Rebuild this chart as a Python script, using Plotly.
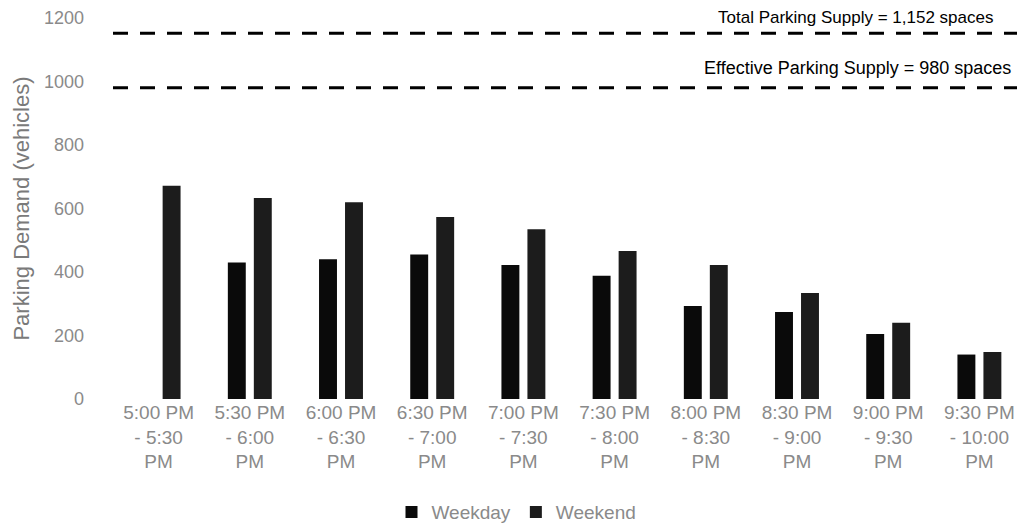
import plotly.graph_objects as go

categories = ["5:00 PM<br>- 5:30<br>PM", "5:30 PM<br>- 6:00<br>PM", "6:00 PM<br>- 6:30<br>PM",
              "6:30 PM<br>- 7:00<br>PM", "7:00 PM<br>- 7:30<br>PM", "7:30 PM<br>- 8:00<br>PM",
              "8:00 PM<br>- 8:30<br>PM", "8:30 PM<br>- 9:00<br>PM", "9:00 PM<br>- 9:30<br>PM",
              "9:30 PM<br>- 10:00<br>PM"]
weekday = [0, 430, 440, 455, 422, 388, 293, 274, 205, 140]
weekend = [672, 633, 620, 573, 535, 466, 422, 334, 240, 148]
total_supply = 1152
effective_supply = 980
y_ticks = [0, 200, 400, 600, 800, 1000, 1200]

FONT = "Arial, Liberation Sans, sans-serif"

fig = go.Figure()
fig.add_trace(go.Bar(x=categories, y=weekday, name="Weekday",
                     marker=dict(color="#0a0a0a", line=dict(width=0))))
fig.add_trace(go.Bar(x=categories, y=weekend, name="Weekend",
                     marker=dict(color="#1c1c1c", line=dict(width=0))))

for val in (total_supply, effective_supply):
    fig.add_shape(type="line", xref="paper", x0=0, x1=1, yref="y", y0=val, y1=val,
                  line=dict(color="black", width=3, dash="15px,12px"))

fig.add_annotation(xref="paper", x=0.967, xanchor="right", yref="y", y=total_supply,
                   yanchor="middle", yshift=16, showarrow=False,
                   text="Total Parking Supply = 1,152 spaces",
                   font=dict(family=FONT, size=17, color="black"))
fig.add_annotation(xref="paper", x=0.987, xanchor="right", yref="y", y=effective_supply,
                   yanchor="middle", yshift=20, showarrow=False,
                   text="Effective Parking Supply = 980 spaces",
                   font=dict(family=FONT, size=18, color="black"))

fig.update_layout(
    width=1017, height=517,
    margin=dict(l=105, r=0, t=10, b=126),
    paper_bgcolor="white", plot_bgcolor="white",
    barmode="group", bargap=0.43, bargroupgap=0.31,
    font=dict(family=FONT, color="#888888"),
    showlegend=True,
    legend=dict(orientation="h", xref="container", x=0.5, xanchor="center",
                yref="container", y=0.025, yanchor="middle",
                font=dict(size=19, color="#8a8a8a"), traceorder="normal"),
    xaxis=dict(showgrid=False, showline=False, zeroline=False, ticks="",
               tickfont=dict(size=19, color="#8a8a8a"), tickangle=0),
    yaxis=dict(range=[0, 1200], tickvals=y_ticks, showgrid=False, showline=False,
               zeroline=False, ticks="", ticklabelstandoff=28,
               tickfont=dict(size=18, color="#8a8a8a"),
               title=dict(text="Parking Demand (vehicles)", standoff=8,
                          font=dict(size=22, color="#7a7a7a"))),
)

fig.write_html("out.html")
